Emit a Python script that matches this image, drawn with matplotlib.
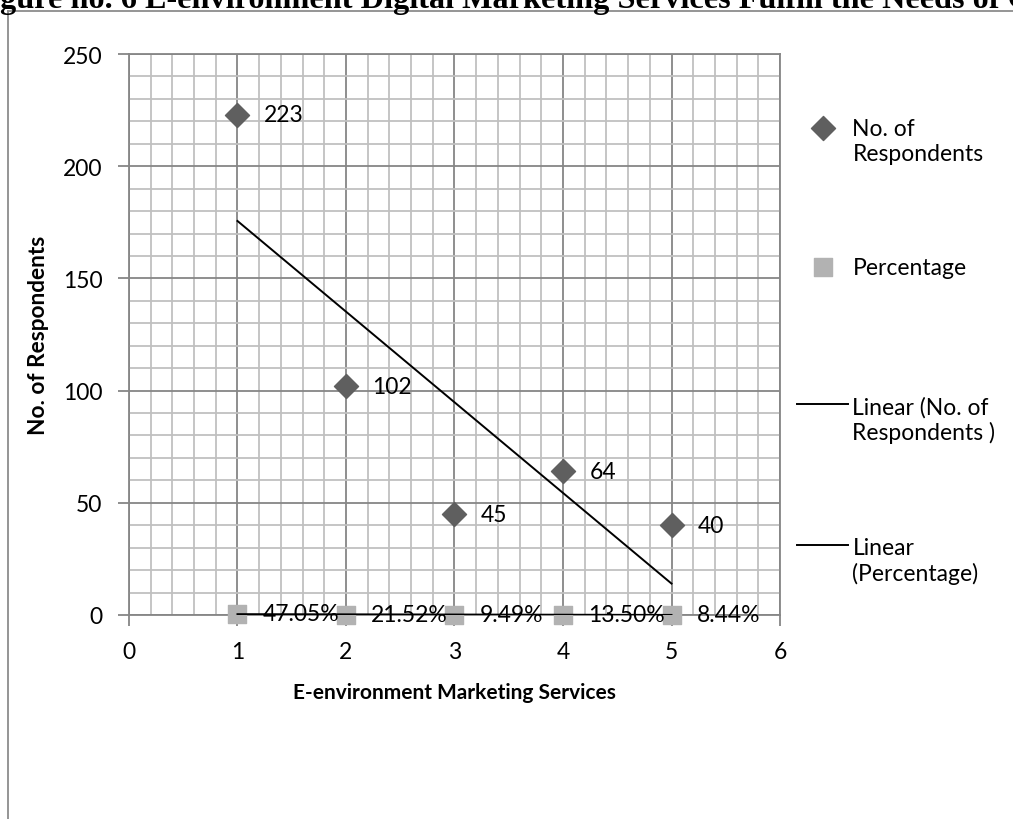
import numpy as np
import matplotlib.pyplot as plt
from matplotlib.lines import Line2D
from matplotlib.ticker import MultipleLocator

# values
services = [1, 2, 3, 4, 5]
respondents = [223, 102, 45, 64, 40]
percentage = [0.4705, 0.2152, 0.0949, 0.1350, 0.0844]
pct_labels = ['47.05%', '21.52%', '9.49%', '13.50%', '8.44%']

title = 'gure no. 6 E-environment Digital Marketing Services Fulfill the Needs of C'
xlabel = 'E-environment Marketing Services'
ylabel = 'No. of Respondents'
# the blank second line keeps every legend slot the same height
legend_labels = ['No. of\nRespondents', 'Percentage\n ', 'Linear (No. of\nRespondents )', 'Linear\n(Percentage)']

plt.rcParams['font.family'] = ['Lato', 'DejaVu Sans']

fig = plt.figure(figsize=(10.13, 8.2), dpi=100)
ax = fig.add_axes([0.1273, 0.2488, 0.6427, 0.6841])

major_c = '#868686'
minor_c = '#c0c0c0'
fs = 16.5

ax.set_xlim(0, 6)
ax.set_ylim(0, 250)
ax.xaxis.set_major_locator(MultipleLocator(1))
ax.xaxis.set_minor_locator(MultipleLocator(0.2))
ax.yaxis.set_major_locator(MultipleLocator(50))
ax.yaxis.set_minor_locator(MultipleLocator(10))
ax.grid(which='minor', color=minor_c, lw=1.3)
ax.grid(which='major', color=major_c, lw=1.3)
ax.set_axisbelow(True)
for s in ax.spines.values():
    s.set_color(major_c)
    s.set_linewidth(1.3)
ax.tick_params(which='major', direction='out', length=8, width=1.3, color=major_c,
               labelsize=fs)
ax.tick_params(axis='y', pad=11)
ax.tick_params(axis='x', pad=11)
ax.tick_params(which='minor', length=0)

x = np.array(services)
y = np.array(respondents)
p = np.array(percentage)

ax.scatter(x, y, marker='D', s=150, color='#5f5f5f', zorder=3, clip_on=False,
           label=legend_labels[0])
ax.scatter(x, p, marker='s', s=170, color='#b2b2b2', zorder=3, clip_on=False,
           label=legend_labels[1])

# linear trend lines, like Excel
k1, b1 = np.polyfit(x, y, 1)
k2, b2 = np.polyfit(x, p, 1)
ax.plot(x, k1 * x + b1, color='black', lw=1.4, zorder=4, label=legend_labels[2])
ax.plot(x, k2 * x + b2, color='black', lw=1.4, zorder=4, label=legend_labels[3])

for xi, yi in zip(x, y):
    ax.annotate(str(yi), (xi, yi), xytext=(19, 0), textcoords='offset points',
                va='center', ha='left', fontsize=fs, zorder=5)
for xi, pi, lab in zip(x, p, pct_labels):
    ax.annotate(lab, (xi, pi), xytext=(18, 0), textcoords='offset points',
                va='center', ha='left', fontsize=fs, zorder=5)

ax.set_xlabel(xlabel, fontsize=15, fontweight='bold', labelpad=14)
ax.set_ylabel(ylabel, fontsize=16.3, fontweight='bold', labelpad=10)

leg = ax.legend(loc='upper left', bbox_to_anchor=(0.995, 0.922), frameon=False,
                fontsize=fs, labelspacing=4.08, handlelength=2.2, handletextpad=0.2,
                scatterpoints=1)
# put each handle level with the first line of its label, as Excel does
for col in leg._legend_handle_box.get_children():
    for item in col.get_children():
        item.align = 'top'

fig.text(0.0, 0.9906, title, fontsize=23.2, fontweight='bold', family='Liberation Serif',
         ha='left', va='baseline')

# chart area border
fig.add_artist(Line2D([0.0079, 0.0079], [0.0, 0.985], color='#8c8c8c', lw=1.3))
fig.add_artist(Line2D([0.0079, 1.0], [0.985, 0.985], color='#8c8c8c', lw=1.3))

fig.savefig('out.png', dpi=100)
